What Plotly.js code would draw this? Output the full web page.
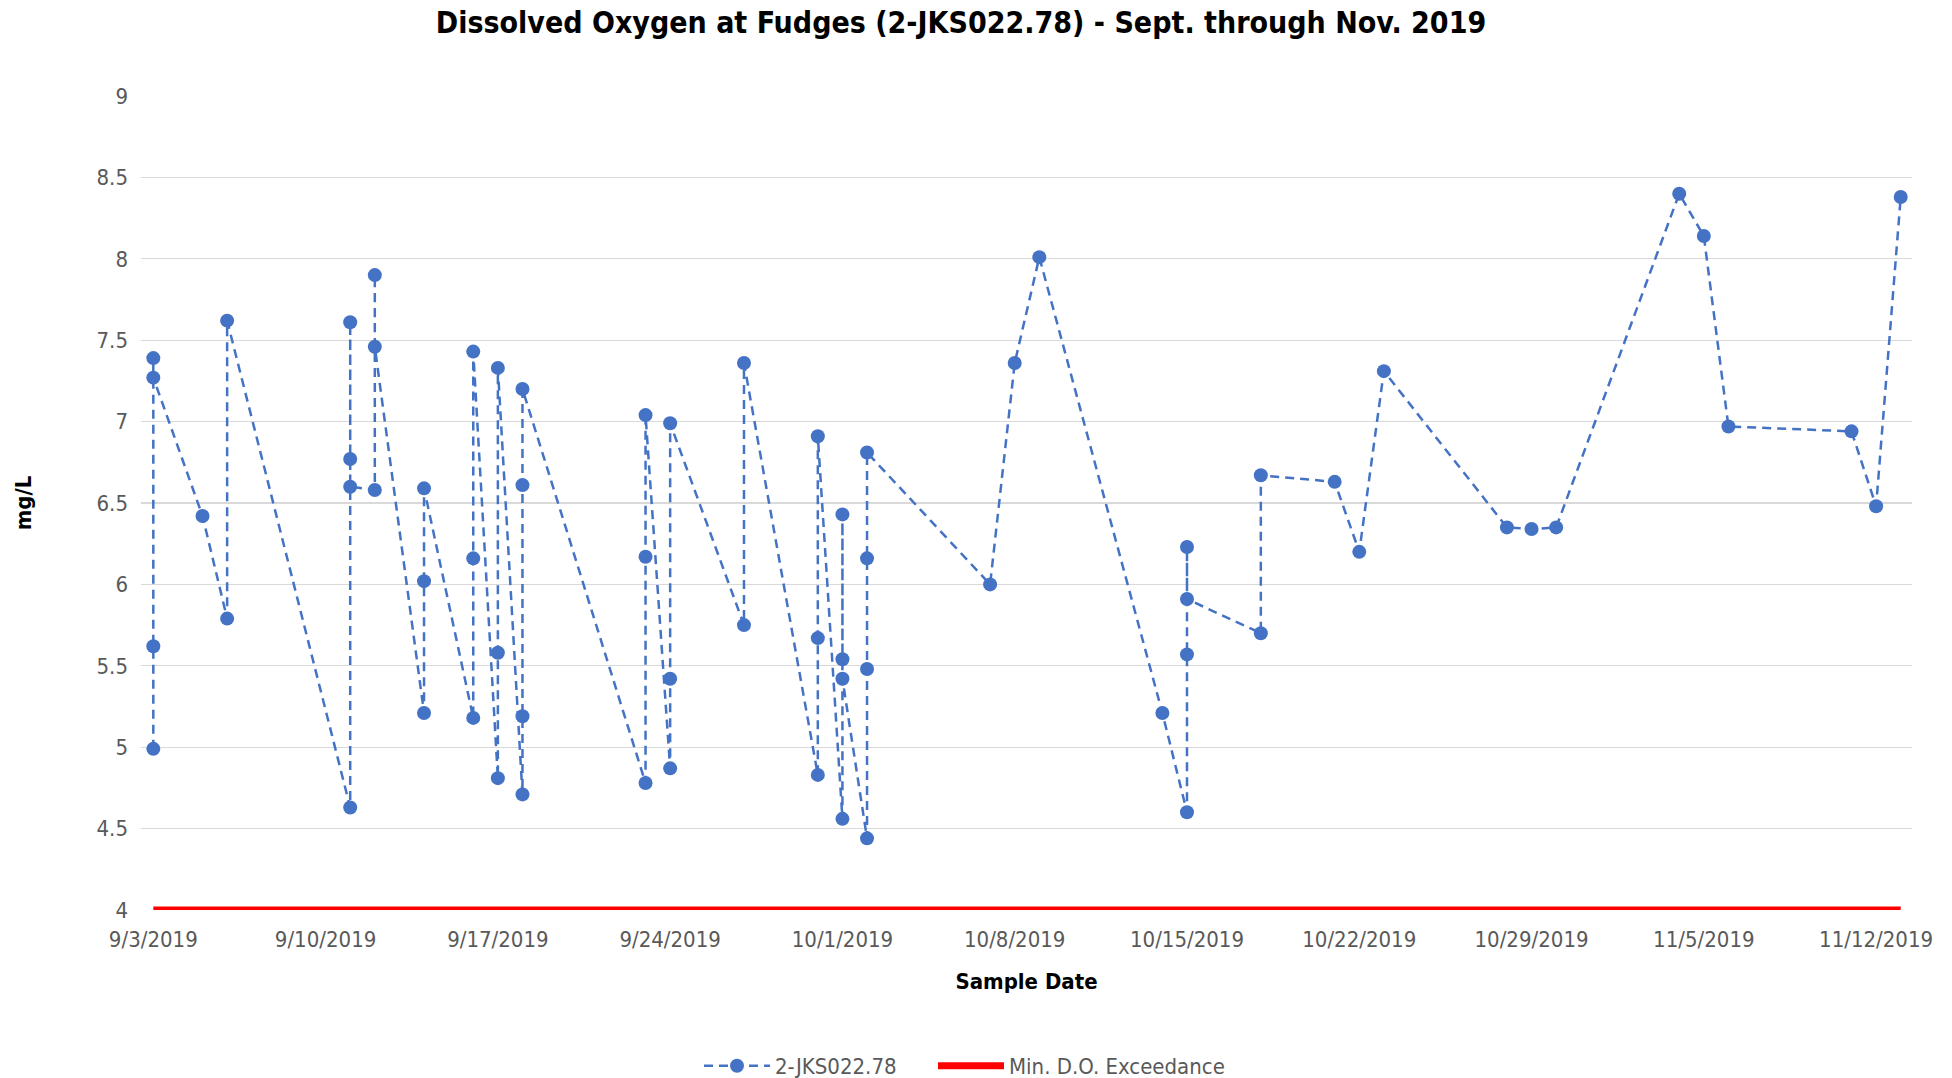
<!DOCTYPE html>
<html>
<head>
<meta charset="utf-8">
<script src="https://cdn.plot.ly/plotly-3.0.1.min.js"></script>
<style>html,body{margin:0;padding:0;background:#fff;}#chart{width:1952px;height:1078px;}</style>
</head>
<body>
<div id="chart"></div>
<script>
// ---- data ----
var sampleDates = [
  '2019-09-03','2019-09-03','2019-09-03','2019-09-03',
  '2019-09-05',
  '2019-09-06','2019-09-06',
  '2019-09-11','2019-09-11','2019-09-11','2019-09-11',
  '2019-09-12','2019-09-12','2019-09-12',
  '2019-09-14','2019-09-14','2019-09-14',
  '2019-09-16','2019-09-16','2019-09-16',
  '2019-09-17','2019-09-17','2019-09-17',
  '2019-09-18','2019-09-18','2019-09-18','2019-09-18',
  '2019-09-23','2019-09-23','2019-09-23',
  '2019-09-24','2019-09-24','2019-09-24',
  '2019-09-27','2019-09-27',
  '2019-09-30','2019-09-30','2019-09-30',
  '2019-10-01','2019-10-01','2019-10-01','2019-10-01',
  '2019-10-02','2019-10-02','2019-10-02','2019-10-02',
  '2019-10-07',
  '2019-10-08',
  '2019-10-09',
  '2019-10-14',
  '2019-10-15','2019-10-15','2019-10-15','2019-10-15',
  '2019-10-18','2019-10-18',
  '2019-10-21',
  '2019-10-22',
  '2019-10-23',
  '2019-10-28',
  '2019-10-29',
  '2019-10-30',
  '2019-11-04',
  '2019-11-05',
  '2019-11-06',
  '2019-11-11',
  '2019-11-12',
  '2019-11-13'
];
var doValues = [
  4.99, 5.62, 7.39, 7.27,
  6.42,
  5.79, 7.62,
  4.63, 7.61, 6.77, 6.60,
  6.58, 7.90, 7.46,
  5.21, 6.02, 6.59,
  5.18, 6.16, 7.43,
  4.81, 5.58, 7.33,
  4.71, 5.19, 6.61, 7.20,
  4.78, 6.17, 7.04,
  4.87, 5.42, 6.99,
  5.75, 7.36,
  4.83, 5.67, 6.91,
  4.56, 6.43, 5.54, 5.42,
  4.44, 5.48, 6.16, 6.81,
  6.00,
  7.36,
  8.01,
  5.21,
  4.60, 5.57, 6.23, 5.91,
  5.70, 6.67,
  6.63,
  6.20,
  7.31,
  6.35,
  6.34,
  6.35,
  8.40,
  8.14,
  6.97,
  6.94,
  6.48,
  8.38
];
var limitDates = ['2019-09-03', '2019-11-13'];
var limitValues = [4, 4];
var tickDates = ['2019-09-03','2019-09-10','2019-09-17','2019-09-24','2019-10-01','2019-10-08','2019-10-15','2019-10-22','2019-10-29','2019-11-05','2019-11-12'];
var tickLabels = ['9/3/2019','9/10/2019','9/17/2019','9/24/2019','10/1/2019','10/8/2019','10/15/2019','10/22/2019','10/29/2019','11/5/2019','11/12/2019'];
var seriesName = '2-JKS022.78';
var limitName = 'Min. D.O. Exceedance';

// ---- chart ----
var FONT = "'Liberation Sans Narrow', 'Arial Narrow', 'DejaVu Sans Condensed', sans-serif";
var traces = [
  {
    x: sampleDates, y: doValues, name: seriesName, legend: 'legend',
    type: 'scatter', mode: 'lines+markers',
    line: {color: '#4472C4', width: 2.5, dash: '9px,6px'},
    marker: {color: '#4472C4', size: 14, symbol: 'circle'}
  },
  {
    x: limitDates, y: limitValues, name: limitName, legend: 'legend2',
    type: 'scatter', mode: 'lines',
    line: {color: '#FF0000', width: 7}
  }
];
var legendCommon = {
  orientation: 'h', xref: 'container', xanchor: 'left',
  y: 1 - 1066/1078, yref: 'container', yanchor: 'middle',
  font: {family: FONT, size: 22, color: '#595959'},
  itemwidth: 66, bgcolor: 'rgba(0,0,0,0)'
};
var layout = {
  width: 1952, height: 1078,
  paper_bgcolor: '#ffffff', plot_bgcolor: '#ffffff',
  margin: {l: 141, r: 40, t: 96, b: 168},
  font: {family: FONT, color: '#595959', size: 22},
  title: {
    text: '<b>Dissolved Oxygen at Fudges (2-JKS022.78) - Sept. through Nov. 2019</b>',
    font: {family: FONT, size: 30, color: '#000000'},
    x: 961/1952, xref: 'container', xanchor: 'center',
    y: 1 - 22/1078, yref: 'container', yanchor: 'middle'
  },
  xaxis: {
    type: 'date',
    range: ['2019-09-02 12:00', '2019-11-13 11:00'],
    tickmode: 'array', tickvals: tickDates, ticktext: tickLabels,
    showgrid: false, zeroline: false, showline: false,
    ticks: '', ticklabelstandoff: 14,
    tickfont: {family: FONT, size: 22, color: '#595959'},
    title: {text: '<b>Sample Date</b>', font: {family: FONT, size: 22, color: '#000000'}, standoff: 22}
  },
  yaxis: {
    range: [4, 9], dtick: 0.5, tick0: 4,
    showgrid: true, gridcolor: '#D9D9D9', gridwidth: 1.3,
    zeroline: false, showline: false, ticks: '',
    ticklabelstandoff: 12,
    tickfont: {family: FONT, size: 22, color: '#595959'},
    title: {text: '<b>mg/L</b>', font: {family: FONT, size: 22, color: '#000000'}, standoff: 58}
  },
  showlegend: true,
  legend: Object.assign({}, legendCommon, {x: 699/1952}),
  legend2: Object.assign({}, legendCommon, {x: 933/1952})
};
Plotly.newPlot('chart', traces, layout, {displayModeBar: false, staticPlot: true});
</script>
</body>
</html>
